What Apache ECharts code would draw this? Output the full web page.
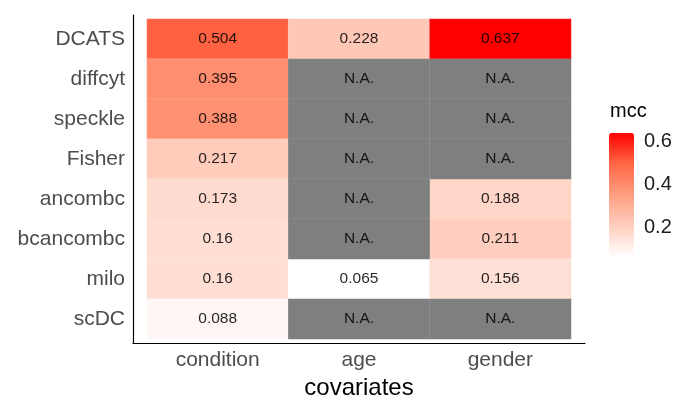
<!DOCTYPE html>
<html>
<head>
<meta charset="utf-8">
<script src="https://cdn.jsdelivr.net/npm/echarts@6/dist/echarts.min.js"></script>
<style>html,body{margin:0;padding:0;background:#fff}#c{width:677px;height:395px}</style>
</head>
<body>
<div id="c"></div>
<script>
var methods = ['DCATS','diffcyt','speckle','Fisher','ancombc','bcancombc','milo','scDC'];
var covariates = ['condition','age','gender'];
var condition = [0.504,0.395,0.388,0.217,0.173,0.16,0.16,0.088];
var age = [0.228,null,null,null,null,null,0.065,null];
var gender = [0.637,null,null,null,0.188,0.211,0.156,null];
var legendTicks = [0.2,0.4,0.6];
var mccMin = 0.065, mccMax = 0.637;

var cols = [condition, age, gender];
var valData = [], naData = [];
cols.forEach(function(col, ci){
  col.forEach(function(v, ri){
    if (v === null) naData.push([ci, ri, 0]);
    else valData.push([ci, ri, v]);
  });
});

var FONT = '"Liberation Sans", Arial, Helvetica, sans-serif';
var chart = echarts.init(document.getElementById('c'), null, {renderer:'canvas'});
chart.setOption({
  animation: false,
  backgroundColor: '#fff',
  textStyle: {fontFamily: FONT},
  grid: [
    {left:147, top:19, right:106, bottom:56, outerBoundsMode:'none', containLabel:false},
    {left:133, top:15, right:92, bottom:52, outerBoundsMode:'none', containLabel:false},
    {left:609, top:133, width:25, height:124, outerBoundsMode:'none', containLabel:false}
  ],
  graphic: [
    {type:'text', left:610, top:101, style:{text:'mcc', fontSize:20, fill:'#000', fontFamily:FONT}}
  ],
  xAxis: [
    {type:'category', gridIndex:0, data:covariates, axisLine:{show:false}, axisTick:{show:false},
     splitLine:{show:false},
     axisLabel:{fontSize:21, color:'#4d4d4d', margin:11, fontFamily:FONT},
     name:'covariates', nameLocation:'middle', nameGap:29,
     nameTextStyle:{fontSize:24, color:'#000', fontFamily:FONT}},
    {type:'value', gridIndex:1, axisLine:{show:true, lineStyle:{color:'#000', width:1.2}},
     axisTick:{show:false}, axisLabel:{show:false}, splitLine:{show:false}},
    {type:'value', gridIndex:2, show:false}
  ],
  yAxis: [
    {type:'category', gridIndex:0, data:methods, inverse:true, axisLine:{show:false}, axisTick:{show:false},
     splitLine:{show:false},
     axisLabel:{fontSize:21, color:'#4d4d4d', margin:22, fontFamily:FONT}},
    {type:'value', gridIndex:1, axisLine:{show:true, lineStyle:{color:'#000', width:1.2}},
     axisTick:{show:false}, axisLabel:{show:false}, splitLine:{show:false}},
    {type:'value', gridIndex:2, position:'right', min:mccMin, max:mccMax,
     axisLine:{show:false}, splitLine:{show:false},
     axisTick:{show:true, inside:true, length:5, lineStyle:{color:'#fff', width:1}, customValues:legendTicks},
     axisLabel:{show:true, fontSize:20, color:'#1a1a1a', margin:10, customValues:legendTicks,
       formatter:function(v){return v.toFixed(1);}}},
    {type:'value', gridIndex:2, position:'left', min:mccMin, max:mccMax,
     axisLine:{show:false}, splitLine:{show:false}, axisLabel:{show:false},
     axisTick:{show:true, inside:true, length:5, lineStyle:{color:'#fff', width:1}, customValues:legendTicks}}
  ],
  visualMap: {
    type:'continuous', seriesIndex:0, min:mccMin, max:mccMax, calculable:false,
    left:609, top:133, itemWidth:25, itemHeight:124, padding:0, text:null, showLabel:false,
    inRange:{color:['#ffffff','#ffcfbf','#ff9e81','#ff6846','#ff0000']}
  },
  series: [
    {type:'heatmap', xAxisIndex:0, yAxisIndex:0, data:valData, z:2,
     itemStyle:{borderColor:'rgba(255,255,255,0.3)', borderWidth:0.5},
     label:{show:true, fontSize:15.5, color:'rgba(0,0,0,0.85)', fontFamily:FONT,
       formatter:function(p){return String(p.value[2]);}},
     emphasis:{disabled:true}},
    {type:'heatmap', xAxisIndex:0, yAxisIndex:0, data:naData, z:2,
     itemStyle:{color:'#7f7f7f', borderColor:'rgba(255,255,255,0.15)', borderWidth:0.5},
     label:{show:true, fontSize:15.5, color:'rgba(0,0,0,0.85)', fontFamily:FONT,
       formatter:function(){return 'N.A.';}},
     emphasis:{disabled:true}}
  ]
});
</script>
</body>
</html>
